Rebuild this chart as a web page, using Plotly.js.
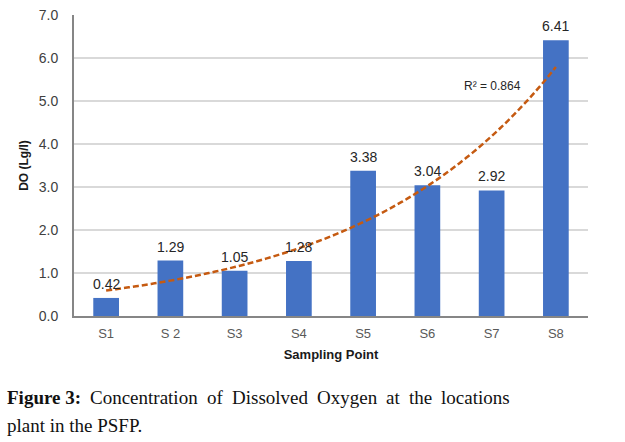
<!DOCTYPE html>
<html>
<head>
<meta charset="utf-8">
<script src="https://cdn.plot.ly/plotly-3.0.1.min.js"></script>
<style>
  html, body { margin: 0; padding: 0; background: #fff; }
  #chart { width: 625px; height: 442px; }
</style>
</head>
<body>
<div id="chart"></div>
<script>
// DO values per sampling point
const sampleLabels = ["S1", "S 2", "S3", "S4", "S5", "S6", "S7", "S8"];
const doValues = [0.42, 1.29, 1.05, 1.28, 3.38, 3.04, 2.92, 6.41];
const yTicks = [0, 1, 2, 3, 4, 5, 6, 7];
const captionLine1 = ["Figure 3:", "Concentration", "of", "Dissolved", "Oxygen", "at", "the", "locations"];
const captionLine2 = "plant in the PSFP.";

const xPos = sampleLabels.map((_, i) => i + 1);

const W = 625, H = 442;
const M = { l: 74, r: 37, t: 15, b: 126 };
const plotW = W - M.l - M.r;
const plotH = H - M.t - M.b;
const serif = "Liberation Serif, DejaVu Serif, serif";
const capSize = 19;

// exponential trendline (least squares on ln y), like Excel's
function expFit(xs, ys) {
  const n = xs.length;
  const ly = ys.map((v) => Math.log(v));
  const mx = xs.reduce((a, b) => a + b, 0) / n;
  const my = ly.reduce((a, b) => a + b, 0) / n;
  let sxy = 0, sxx = 0, syy = 0;
  for (let i = 0; i < n; i++) {
    sxy += (xs[i] - mx) * (ly[i] - my);
    sxx += (xs[i] - mx) ** 2;
    syy += (ly[i] - my) ** 2;
  }
  const b = sxy / sxx;
  const a = Math.exp(my - b * mx);
  return { a, b, r2: (sxy * sxy) / (sxx * syy) };
}

const fit = expFit(xPos, doValues);
const trendX = [];
for (let x = 1; x <= 8.0001; x += 0.1) trendX.push(x);
const trendY = trendX.map((x) => fit.a * Math.exp(fit.b * x));

// pixel -> paper helpers for the caption below the plot
const px2paperX = (px) => (px - M.l) / plotW;
const px2paperY = (py) => (H - M.b - py) / plotH;

// justified first caption line: measure words, spread gaps evenly
const ctx = document.createElement("canvas").getContext("2d");
const widths = captionLine1.map((w, i) => {
  ctx.font = (i === 0 ? "bold " : "") + capSize + "px 'Liberation Serif'";
  return ctx.measureText(w).width;
});
const lineStart = 5, lineEnd = 508;
const gap = (lineEnd - lineStart - widths.reduce((a, b) => a + b, 0)) / (captionLine1.length - 1);
let cursor = lineStart;
const captionAnns = captionLine1.map((w, i) => {
  const ann = {
    x: px2paperX(cursor),
    y: px2paperY(397),
    xref: "paper",
    yref: "paper",
    xanchor: "left",
    yanchor: "middle",
    text: i === 0 ? "<b>" + w + "</b>" : w,
    showarrow: false,
    font: { family: serif, size: capSize, color: "#111" },
  };
  cursor += widths[i] + gap;
  return ann;
});
captionAnns.push({
  x: px2paperX(lineStart),
  y: px2paperY(425),
  xref: "paper",
  yref: "paper",
  xanchor: "left",
  yanchor: "middle",
  text: captionLine2,
  showarrow: false,
  font: { family: serif, size: capSize, color: "#111" },
});

const labelAnns = doValues.map((v, i) => ({
  x: xPos[i],
  y: v,
  xref: "x",
  yref: "y",
  yanchor: "bottom",
  yshift: 4,
  text: v.toFixed(2),
  showarrow: false,
  font: { size: 14, color: "#262626" },
}));

const barTrace = {
  x: xPos,
  y: doValues,
  type: "bar",
  width: 0.4,
  marker: { color: "#4472c4" },
  hoverinfo: "skip",
};

const trendTrace = {
  x: trendX,
  y: trendY,
  type: "scatter",
  mode: "lines",
  line: { color: "#c55a11", width: 2.5, dash: "6px,3px", shape: "spline" },
  hoverinfo: "skip",
};

const layout = {
  width: W,
  height: H,
  margin: M,
  paper_bgcolor: "#fff",
  plot_bgcolor: "#fff",
  showlegend: false,
  font: { family: "Liberation Sans, Arial, sans-serif", color: "#595959" },
  xaxis: {
    range: [0.5, 8.5],
    tickvals: xPos,
    ticktext: sampleLabels,
    showgrid: false,
    zeroline: false,
    showline: true,
    linecolor: "#868686",
    linewidth: 2,
    ticks: "",
    ticklabelstandoff: 4,
    tickfont: { size: 13, color: "#595959" },
    title: {
      text: "<b>Sampling Point</b>",
      font: { size: 13, color: "#1a1a1a" },
      standoff: 10,
    },
  },
  yaxis: {
    range: [0, 7],
    tickvals: yTicks,
    tickformat: ".1f",
    showgrid: true,
    gridcolor: "#d9d9d9",
    gridwidth: 1.5,
    zeroline: false,
    showline: true,
    linecolor: "#868686",
    linewidth: 2,
    ticks: "",
    ticklabelstandoff: 11,
    tickfont: { size: 14, color: "#404040" },
    title: {
      text: "<b>DO (Lg/l)</b>",
      font: { size: 12, color: "#1a1a1a" },
      standoff: 8,
    },
  },
  annotations: [
    {
      x: 7.02,
      y: 5.35,
      xref: "x",
      yref: "y",
      text: "R² = 0.864",
      showarrow: false,
      font: { size: 12, color: "#262626" },
    },
    ...labelAnns,
    ...captionAnns,
  ],
};

Plotly.newPlot("chart", [barTrace, trendTrace], layout, { displayModeBar: false, staticPlot: true });
</script>
</body>
</html>
